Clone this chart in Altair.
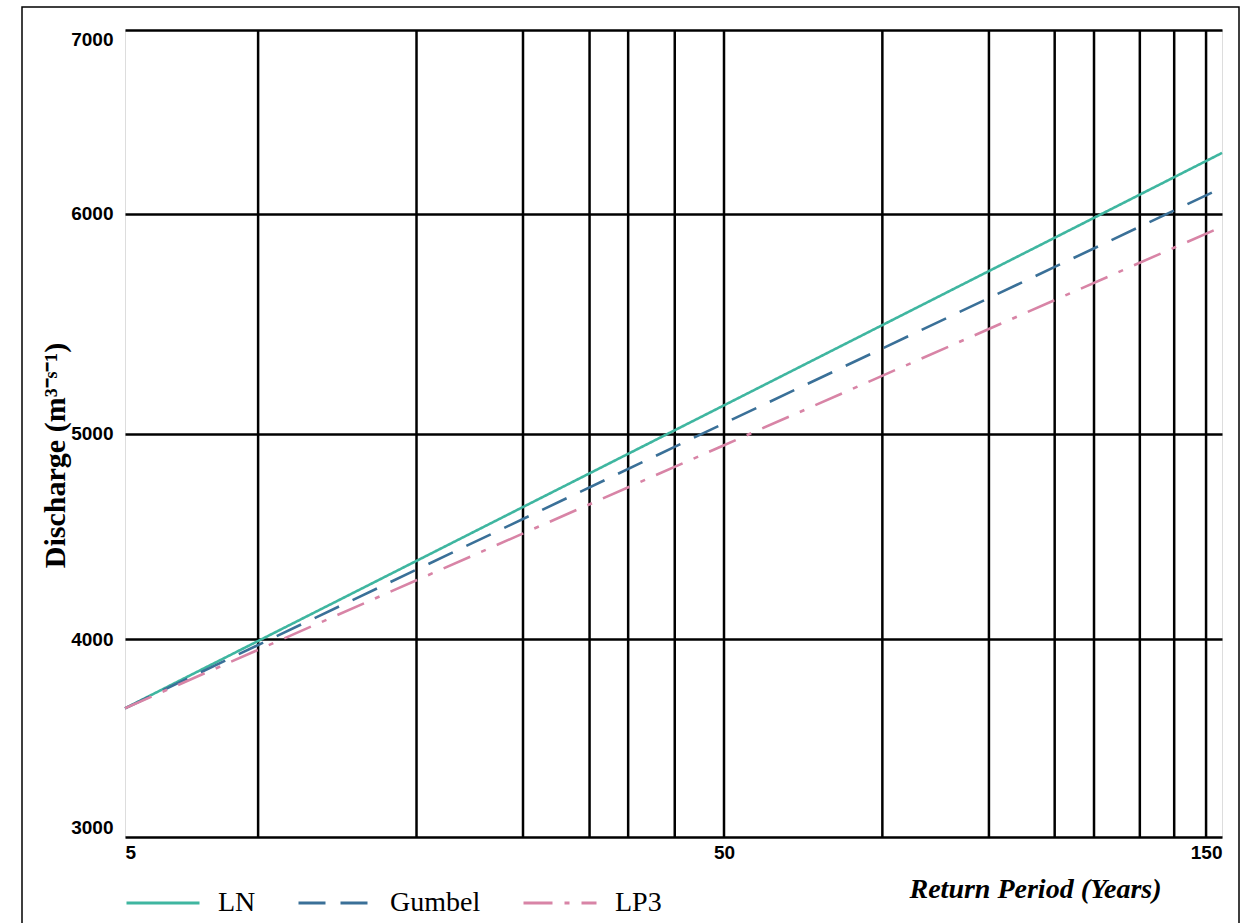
import altair as alt
import pandas as pd

# Return periods at which the curves were read (years)
years = [5, 50, 150]
# Discharge values (m3/s)
ln_vals = [3650, 5128, 6330]
gumbel_vals = [3650, 5046, 6140]
lp3_vals = [3650, 4943, 5940]

series_names = ["LN", "Gumbel", "LP3"]
series_colors = ["#3fb6a0", "#3a7098", "#d884a6"]
series_dash = [[1, 0], [27, 15], [29, 12, 5, 12]]

# vertical grid lines (return period, years) as drawn on the paper
grid_years = [15, 26.9, 34.9, 39.9, 42.8, 46.3, 50, 81.8, 103.2, 116.4, 124.3, 133.5, 140.4, 146.8]

x_ticks = [5, 50, 150]
y_ticks = [3000, 4000, 5000, 6000, 7000]

W, H = 1097, 807

rows = []
for name, vals in zip(series_names, [ln_vals, gumbel_vals, lp3_vals]):
    for yr, v in zip(years, vals):
        rows.append({"series": name, "T": yr, "Q": v})
lines_df = pd.DataFrame(rows)
grid_df = pd.DataFrame({"T": grid_years})

# the graph paper is not uniform: piecewise scales
x_scale = alt.Scale(domain=[5, 50, 150], range=[0, 599, W], nice=False, zero=False)
y_scale = alt.Scale(domain=y_ticks, range=[H, 609, 403.5, 183.5, 0], nice=False, zero=False)

x_axis = alt.Axis(
    values=x_ticks, grid=False, ticks=False, domain=False, labelFlush=True,
    format="d",
    labelFont="Liberation Sans", labelFontWeight="bold", labelFontSize=19,
    labelColor="black", labelPadding=6,
    title="Return Period (Years)", titleFont="Liberation Serif", titleFontSize=28,
    titleFontWeight="bold", titleFontStyle="italic", titleColor="black",
    titleX=910, titleY=60, titleAlign="center", titleBaseline="alphabetic",
)
y_axis = alt.Axis(
    values=y_ticks, grid=True, gridColor="black", gridWidth=2.5, gridOpacity=1,
    ticks=False, domain=False, labelFlush=True, format="d",
    labelFont="Liberation Sans", labelFontWeight="bold", labelFontSize=19,
    labelColor="black", labelPadding=12,
    title="Discharge (m³⁻ˢ⁻¹)", titleFont="Liberation Serif", titleFontSize=30,
    titleFontWeight="bold", titleColor="black", titleAngle=270,
    titleX=-70, titleY=425, titleAlign="center", titleBaseline="middle",
)

legend_cfg = dict(
    title=None, orient="none", legendX=0, legendY=835, direction="horizontal",
    symbolType="stroke", symbolSize=5329, symbolStrokeWidth=3,
    labelFont="Liberation Serif", labelFontSize=28, labelColor="black",
    labelOffset=17, columnPadding=36, padding=0,
)

vgrid = alt.Chart(grid_df).mark_rule(color="black", strokeWidth=2.5).encode(
    x=alt.X("T:Q", scale=x_scale, axis=x_axis)
)

lines = alt.Chart(lines_df).mark_line(strokeWidth=2.6).encode(
    x=alt.X("T:Q", scale=x_scale, axis=x_axis),
    y=alt.Y("Q:Q", scale=y_scale, axis=y_axis),
    color=alt.Color(
        "series:N",
        scale=alt.Scale(domain=series_names, range=series_colors),
        legend=alt.Legend(**legend_cfg),
    ),
    strokeDash=alt.StrokeDash(
        "series:N",
        scale=alt.Scale(domain=series_names, range=series_dash),
        legend=alt.Legend(**legend_cfg),
    ),
    order=alt.Order("series:N", sort="descending"),
)

frame = alt.Chart(alt.Data(values=[{"a": 1}])).mark_rect(
    fill=None, stroke="black", strokeWidth=1.5
).encode(
    x=alt.value(-103), x2=alt.value(1114), y=alt.value(-23), y2=alt.value(900)
)

chart = alt.layer(frame, vgrid, lines).properties(
    width=W, height=H,
    autosize=alt.AutoSizeParams(type="none"),
    padding={"left": 125, "top": 30, "right": 21, "bottom": 86},
).configure_view(stroke="black", strokeWidth=3).configure(background="white")

chart.save("out.html", embed_options={"renderer": "svg", "actions": False})
